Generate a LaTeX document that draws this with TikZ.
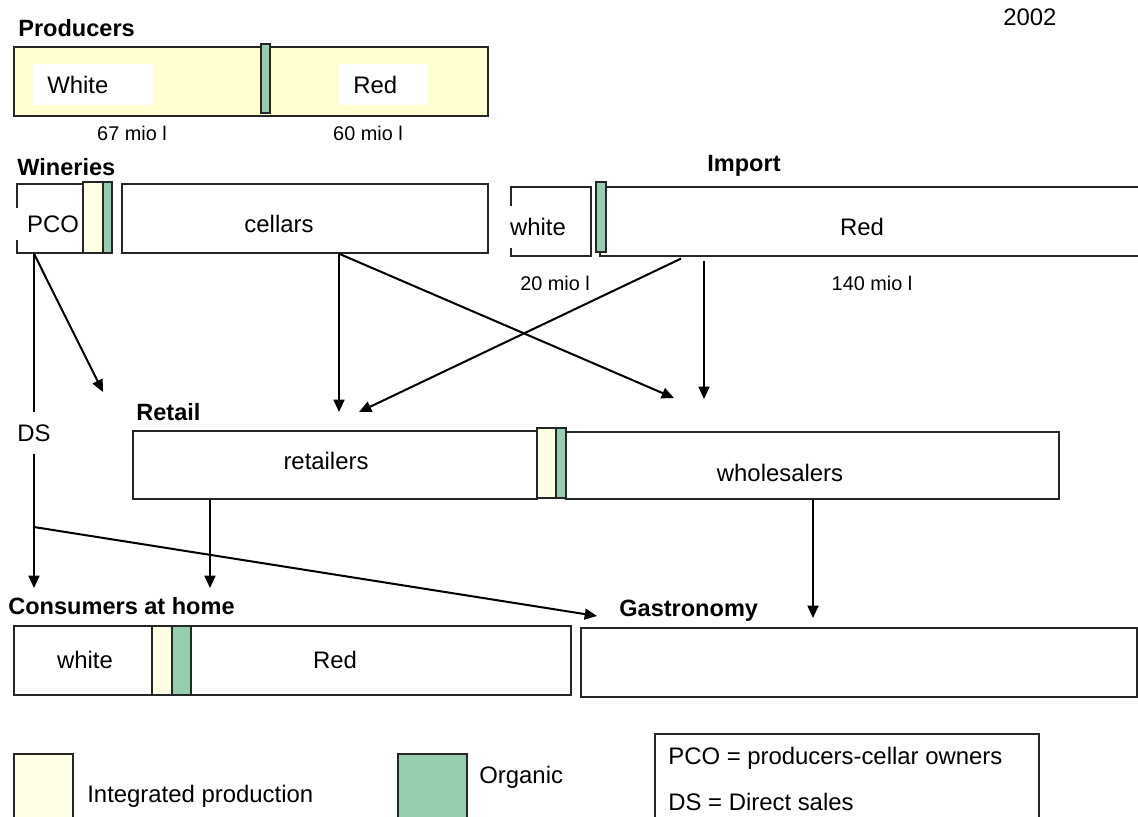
\documentclass[tikz,border=0pt]{standalone}
\usepackage{fontspec}
\setmainfont{Liberation Sans}
\usetikzlibrary{arrows.meta,fit}
\definecolor{strawyellow}{RGB}{255,255,208}
\definecolor{ipyellow}{RGB}{255,255,230}
\definecolor{orggreen}{RGB}{150,205,175}
\begin{document}
\begin{tikzpicture}[x=0.02cm,y=-0.02cm,
    box/.style={draw=black!85, line width=0.8pt, inner sep=0pt},
    ipbar/.style={box, fill=ipyellow},
    orgbar/.style={box, fill=orggreen},
    txt/.style={inner sep=0pt, font=\fontsize{13.6}{16}\selectfont},
    head/.style={txt, font=\fontsize{13.4}{16}\selectfont\bfseries},
    qty/.style={txt, font=\fontsize{11.3}{14}\selectfont},
    flow/.style={line width=1.15pt, -{Triangle[length=7pt,width=6.2pt]}}]
        \useasboundingbox (0,0) rectangle (1138,816);
        % producers
        \node[head, anchor=west] (prodHead) at (18,28) {Producers};
        \node[txt, anchor=west] (year) at (1003,17) {2002};
        \node[box, fill=strawyellow, fit={(14,47) (488,116)}] (prod) {};
        \node[inner sep=0pt, fill=white, fit={(33,64) (153,105)}] (prodWbg) {};
        \node[inner sep=0pt, fill=white, fit={(339,64) (428,105)}] (prodRbg) {};
        \node[txt, anchor=west] (prodW) at (47,85) {White};
        \node[txt, anchor=west] (prodR) at (353,85) {Red};
        \node[orgbar, fit={(261,44) (270,113)}] (prodOrg) {};
        \node[qty] (prodWq) at (132,133) {67 mio l};
        \node[qty] (prodRq) at (368,133) {60 mio l};
        % wineries
        \node[head, anchor=west] (winHead) at (17,167) {Wineries};
        \node[box, fit={(17,184) (112,253)}] (pco) {};
        \node[txt, fill=white, inner xsep=0.24cm, inner ysep=0.15cm] (pcoTxt) at (53,224) {PCO};
        \node[ipbar, fit={(83,182) (103,253)}] (pcoIp) {};
        \node[orgbar, fit={(103,182) (112,253)}] (pcoOrg) {};
        \node[box, fit={(122,184) (488,253)}] (cellars) {};
        \node[txt] (cellTxt) at (279,224) {cellars};
        % import
        \node[head, anchor=west] (impHead) at (707,166) {Import};
        \node[box, fit={(511,187) (591,256)}] (impW) {};
        \node[txt, fill=white, inner xsep=0.1cm, inner ysep=0.25cm] (impWtxt) at (538,227) {white};
        \node[box, fit={(600,187) (1150,256)}] (impR) {};
        \node[orgbar, fit={(596,182) (606,252)}] (impOrg) {};
        \node[txt] (impRtxt) at (862,227) {Red};
        \node[qty] (impWq) at (555,283) {20 mio l};
        \node[qty] (impRq) at (872,283) {140 mio l};
        % retail
        \node[head, anchor=west] (retHead) at (136,412) {Retail};
        \node[box, fit={(133,431) (537,499)}] (retailers) {};
        \node[box, fit={(566,432) (1059,499)}] (wholesalers) {};
        \node[ipbar, fit={(537,428) (556,498)}] (retIp) {};
        \node[orgbar, fit={(556,428) (566,498)}] (retOrg) {};
        \node[txt] (retTxt) at (326,461) {retailers};
        \node[txt] (wholeTxt) at (780,473) {wholesalers};
        % consumers
        \node[head, anchor=west] (homeHead) at (8,606) {Consumers at home};
        \node[box, fit={(14,626) (571,695)}] (home) {};
        \node[ipbar, fit={(152,626) (172,695)}] (homeIp) {};
        \node[orgbar, fit={(172,626) (191,695)}] (homeOrg) {};
        \node[txt] (homeW) at (85,660) {white};
        \node[txt] (homeR) at (335,660) {Red};
        \node[head, anchor=west] (gastHead) at (619,611) {Gastronomy};
        \node[box, fit={(581,628) (1137,697)}] (gastro) {};
        % legend
        \node[ipbar, fit={(14,754) (73,840)}] (legIp) {};
        \node[txt, anchor=west] (legIpTxt) at (87,796) {Integrated production};
        \node[orgbar, fit={(398,754) (467,840)}] (legOrg) {};
        \node[txt, anchor=west] (legOrgTxt) at (479,777) {Organic};
        \node[box, fit={(655,734) (1039,840)}] (legAbbr) {};
        \node[txt, anchor=west] (legPco) at (668,758) {PCO = producers-cellar owners};
        \node[txt, anchor=west] (legDs) at (668,802) {DS = Direct sales};
        % flows
        \coordinate (dsEnd) at (34,588);
        \coordinate (dsFork) at (34,527);
        \coordinate (pcoRet) at (103,392);
        \coordinate (celRet) at (339,412);
        \coordinate (celWhole) at (674,398);
        \coordinate (impFrom) at (685,261);
        \coordinate (impRet) at (359,412);
        \coordinate (impWhole) at (704,399);
        \coordinate (homeIn) at (210,588);
        \coordinate (gastIn) at (597,616);
        \coordinate (gastFrom) at (813,618);
        \draw[flow] (pco.south -| dsEnd) -- (dsEnd);
        \node[txt, fill=white, inner ysep=0.26cm] (ds) at (34,433) {DS};
        \draw[flow] (pco.south -| dsEnd) -- (pcoRet);
        \draw[flow] (dsFork) -- (gastIn);
        \draw[flow] (cellars.south -| celRet) -- (celRet);
        \draw[flow] (cellars.south -| celRet) -- (celWhole);
        \draw[flow, shorten <=2.5pt] (impR.south -| impFrom) -- (impRet);
        \draw[flow, shorten <=2.5pt] (impR.south -| impWhole) -- (impWhole);
        \draw[flow] (retailers.south -| homeIn) -- (homeIn);
        \draw[flow] (wholesalers.south -| gastFrom) -- (gastFrom);
    \end{tikzpicture}
\end{document}
